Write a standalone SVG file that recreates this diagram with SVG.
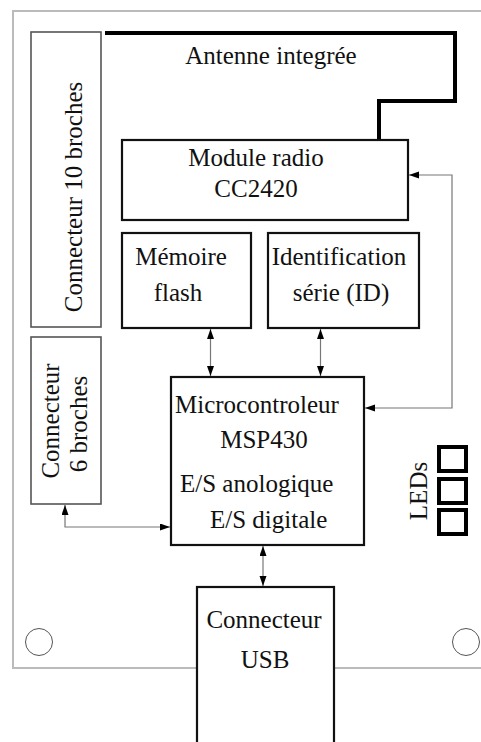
<svg xmlns="http://www.w3.org/2000/svg" width="481" height="742" viewBox="0 0 481 742">
<style>
text{font-family:"Liberation Serif","DejaVu Serif","Times New Roman",serif;font-size:25px;fill:#111}
.box{fill:#fff;stroke:#111;stroke-width:2.2}
.conn{fill:#fff;stroke:#555;stroke-width:1.6}
.wire{fill:none;stroke:#777;stroke-width:1.2}
.mid{text-anchor:middle}
.led{fill:#fff;stroke:#000;stroke-width:4}
</style>
<defs>
<marker id="ah" markerUnits="userSpaceOnUse" markerWidth="11" markerHeight="8" refX="10" refY="3.5" orient="auto-start-reverse">
<path d="M0,0 L10,3.5 L0,7 z" fill="#000"/>
</marker>
</defs>
<rect width="481" height="742" fill="#fff"/>
<g id="board">
<path d="M490,11 H13 V668 H490" fill="none" stroke="#bbb" stroke-width="2"/>
<circle cx="39" cy="642" r="13.5" fill="none" stroke="#555" stroke-width="1"/>
<circle cx="466" cy="642" r="13.5" fill="none" stroke="#555" stroke-width="1"/>
</g>
<g id="antenne">
<path d="M105,33 H455 V101 H379 V140" fill="none" stroke="#000" stroke-width="4"/>
<text x="271" y="64" class="mid">Antenne integrée</text>
</g>
<g id="connecteur10">
<rect class="conn" x="31" y="32" width="70" height="295"/>
<text class="mid" transform="translate(82,197) rotate(-90)">Connecteur 10 broches</text>
</g>
<g id="connecteur6">
<rect class="conn" x="31" y="337" width="70" height="167"/>
<text class="mid" transform="translate(59,421) rotate(-90)">Connecteur</text>
<text class="mid" transform="translate(87,424) rotate(-90)">6 broches</text>
</g>
<g id="radio">
<rect class="box" x="122" y="140" width="286" height="80"/>
<text x="256" y="166" class="mid">Module radio</text>
<text x="256" y="197" class="mid">CC2420</text>
</g>
<g id="memoire">
<rect class="box" x="122" y="233" width="129" height="95"/>
<text x="181" y="265" class="mid">Mémoire</text>
<text x="178" y="301" class="mid">flash</text>
</g>
<g id="identification">
<rect class="box" x="268" y="233" width="151" height="95"/>
<text x="339" y="265" class="mid">Identification</text>
<text x="341" y="301" class="mid">série (ID)</text>
</g>
<g id="micro">
<rect class="box" x="171" y="377" width="193" height="168"/>
<text x="175" y="413">Microcontroleur</text>
<text x="264" y="448" class="mid">MSP430</text>
<text x="180" y="492">E/S anologique</text>
<text x="210" y="528">E/S digitale</text>
</g>
<g id="usb">
<rect class="box" x="197" y="587" width="137" height="170"/>
<text x="264" y="628" class="mid">Connecteur</text>
<text x="265" y="668" class="mid">USB</text>
</g>
<g id="leds">
<rect class="led" x="439" y="447" width="27" height="24"/>
<rect class="led" x="439" y="479" width="27" height="24"/>
<rect class="led" x="439" y="510" width="27" height="24"/>
<text class="mid" transform="translate(427,491) rotate(-90)">LEDs</text>
</g>
<g id="connectors">
<path class="wire" d="M409,175 H452 V408 H365" marker-start="url(#ah)" marker-end="url(#ah)"/>
<path class="wire" d="M210.5,329 V376" marker-start="url(#ah)" marker-end="url(#ah)"/>
<path class="wire" d="M320.5,329 V376" marker-start="url(#ah)" marker-end="url(#ah)"/>
<path class="wire" d="M65,505 V527 H170" marker-start="url(#ah)" marker-end="url(#ah)"/>
<path class="wire" d="M263,546 V586" marker-start="url(#ah)" marker-end="url(#ah)"/>
</g>
</svg>
